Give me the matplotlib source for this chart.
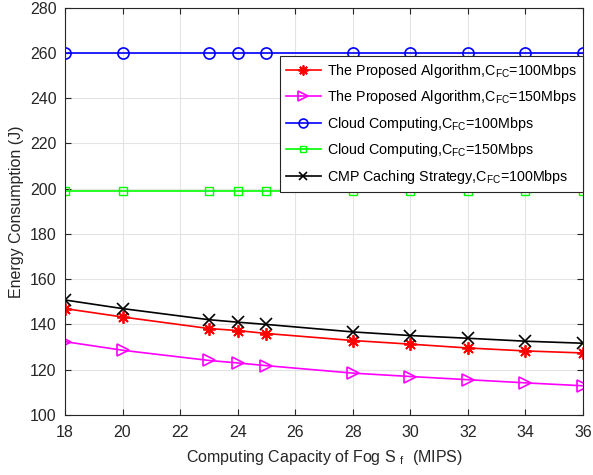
import matplotlib
matplotlib.use('Agg')
import matplotlib.pyplot as plt

plt.rcParams['font.family'] = ['Liberation Sans', 'DejaVu Sans']
plt.rcParams['mathtext.default'] = 'regular'

capacity = [18, 20, 23, 24, 25, 28, 30, 32, 34, 36]
proposed_100 = [147.0, 143.3, 138.2, 137.3, 136.0, 132.9, 131.3, 129.6, 128.3, 127.4]
proposed_150 = [132.4, 128.6, 124.1, 123.0, 121.8, 118.5, 117.0, 115.6, 114.2, 112.9]
cloud_100 = [260] * len(capacity)
cloud_150 = [198.8] * len(capacity)
cmp_100 = [150.8, 147.0, 142.1, 141.0, 140.0, 136.7, 135.1, 133.9, 132.6, 131.7]

fig = plt.figure(figsize=(5.93, 4.75), dpi=100)
ax = fig.add_axes([65 / 593, 60 / 475, 518 / 593, 407.5 / 475])

ax.plot(capacity, proposed_100, color='red', marker=(8, 2, 0), markersize=9, mew=1.3, lw=1.2,
        label='The Proposed Algorithm,C$_{FC}$=100Mbps')
ax.plot(capacity, proposed_150, color='magenta', marker='>', markersize=9, mew=1.2, lw=1.2,
        markerfacecolor='none', label='The Proposed Algorithm,C$_{FC}$=150Mbps')
ax.plot(capacity, cloud_100, color='blue', marker='o', markersize=8, mew=1.2, lw=1.2,
        markerfacecolor='none', label='Cloud Computing,C$_{FC}$=100Mbps')
ax.plot(capacity, cloud_150, color='#00ff00', marker='s', markersize=6, mew=1.0, lw=1.2,
        markerfacecolor='none', label='Cloud Computing,C$_{FC}$=150Mbps')
ax.plot(capacity, cmp_100, color='black', marker='x', markersize=8, mew=1.2, lw=1.2,
        label='CMP Caching Strategy,C$_{FC}$=100Mbps')

ax.set_xlim(18, 36)
ax.set_ylim(100, 280)
ax.set_xticks(range(18, 37, 2))
ax.set_yticks(range(100, 281, 20))
ax.grid(True, color='#e3e3e3', lw=0.8)
ax.set_axisbelow(True)
ax.tick_params(direction='in', top=True, right=True, labelsize=11.5, colors='#262626', length=4)
ax.tick_params(axis='x', pad=7)
ax.tick_params(axis='y', pad=6)
for s in ax.spines.values():
    s.set_color('#262626')
    s.set_linewidth(0.8)

ax.set_xlabel('Computing Capacity of Fog S $_{f}$  (MIPS)', fontsize=11.5, color='#262626', labelpad=6)
ax.set_ylabel('Energy Consumption (J)', fontsize=11.5, color='#262626', labelpad=4)

leg = ax.legend(loc='upper right', bbox_to_anchor=(1.0, 0.881), fontsize=10.3,
                frameon=True, fancybox=False, edgecolor='#262626', framealpha=1,
                handlelength=2.5, borderpad=0.4, labelspacing=0.6, handletextpad=0.4,
                borderaxespad=0, markerscale=0.8)
leg.get_frame().set_linewidth(0.8)

fig.savefig('out.png', dpi=100)
